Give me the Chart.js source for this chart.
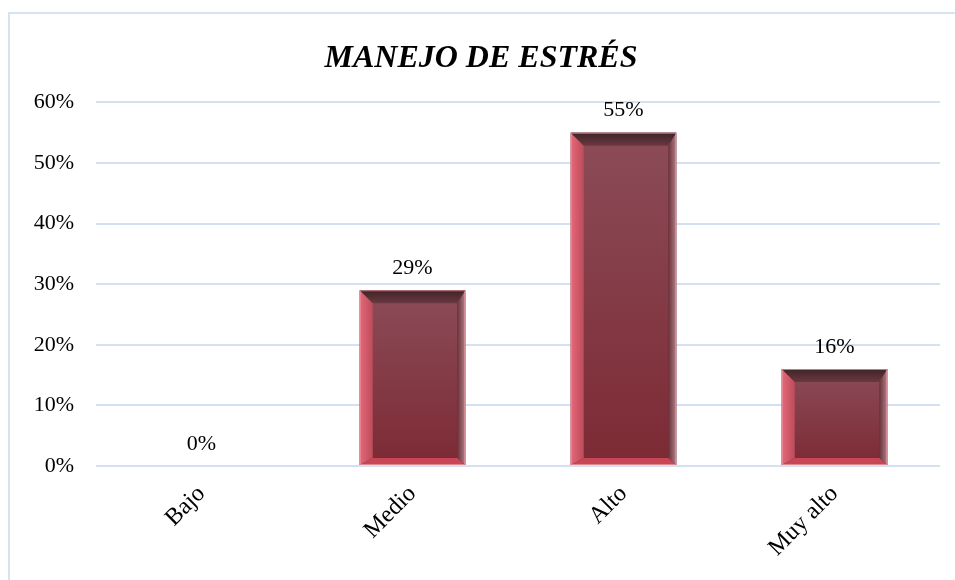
<!DOCTYPE html>
<html>
<head>
<meta charset="utf-8">
<script src="https://cdn.jsdelivr.net/npm/chart.js@4"></script>
<style>
  html, body { margin: 0; padding: 0; background: #fff; }
  #wrap { position: relative; width: 955px; height: 580px; }
  #frame { position: absolute; left: 8px; top: 12px; right: -10px; bottom: -10px;
           border-left: 2px solid #d6e3f3; border-top: 2px solid #d6e3f3; }
  canvas { position: absolute; left: 0; top: 0; }
</style>
</head>
<body>
<div id="wrap">
  <div id="frame"></div>
  <canvas id="myChart" width="955" height="580"></canvas>
</div>
<script>
// datos
const categorias = ['Bajo', 'Medio', 'Alto', 'Muy alto'];
const porcentajes = [0, 29, 55, 16];
const ticksY = [0, 10, 20, 30, 40, 50, 60];
const titulo = 'MANEJO DE ESTRÉS';

// bisel tipo Excel sobre cada barra
const biselPlugin = {
    id: 'bisel',
    afterDatasetsDraw(chart) {
        const ctx = chart.ctx;
        const meta = chart.getDatasetMeta(0);
        meta.data.forEach(function(bar, i) {
            const w = bar.width;
            const x0 = bar.x - w / 2, x1 = bar.x + w / 2;
            const y0 = bar.y, y1 = bar.base;
            const h = y1 - y0;
            if (h > 2) {
                const bt = Math.min(13, h / 2), bl = 13, br = 8, bb = Math.min(7, h / 2);
                ctx.save();
                // cara
                let g = ctx.createLinearGradient(0, y0, 0, y1);
                g.addColorStop(0, '#8b4c58');
                g.addColorStop(1, '#7c2a34');
                ctx.fillStyle = g;
                ctx.fillRect(x0, y0, w, h);
                // izquierda
                g = ctx.createLinearGradient(x0, 0, x0 + bl, 0);
                g.addColorStop(0, '#e6687a');
                g.addColorStop(1, '#bc4c5a');
                ctx.fillStyle = g;
                ctx.beginPath();
                ctx.moveTo(x0, y0); ctx.lineTo(x0 + bl, y0 + bt);
                ctx.lineTo(x0 + bl, y1 - bb); ctx.lineTo(x0, y1);
                ctx.closePath(); ctx.fill();
                // derecha
                g = ctx.createLinearGradient(x1 - br, 0, x1, 0);
                g.addColorStop(0, '#6a3038');
                g.addColorStop(1, '#b08088');
                ctx.fillStyle = g;
                ctx.beginPath();
                ctx.moveTo(x1, y0); ctx.lineTo(x1 - br, y0 + bt);
                ctx.lineTo(x1 - br, y1 - bb); ctx.lineTo(x1, y1);
                ctx.closePath(); ctx.fill();
                // arriba
                g = ctx.createLinearGradient(0, y0, 0, y0 + bt);
                g.addColorStop(0, '#3e2426');
                g.addColorStop(1, '#6a3840');
                ctx.fillStyle = g;
                ctx.beginPath();
                ctx.moveTo(x0, y0); ctx.lineTo(x1, y0);
                ctx.lineTo(x1 - br, y0 + bt); ctx.lineTo(x0 + bl, y0 + bt);
                ctx.closePath(); ctx.fill();
                // abajo
                ctx.fillStyle = '#c84656';
                ctx.beginPath();
                ctx.moveTo(x0, y1); ctx.lineTo(x1, y1);
                ctx.lineTo(x1 - br, y1 - bb); ctx.lineTo(x0 + bl, y1 - bb);
                ctx.closePath(); ctx.fill();
                ctx.strokeStyle = 'rgba(230,150,160,0.8)';
                ctx.lineWidth = 1;
                ctx.strokeRect(x0 + 0.5, y0 + 0.5, w - 1, h - 1);
                ctx.restore();
            }
            // etiqueta
            ctx.save();
            ctx.font = '22px "Liberation Serif"';
            ctx.fillStyle = '#000';
            ctx.textAlign = 'center';
            ctx.textBaseline = 'middle';
            ctx.fillText(porcentajes[i] + '%', bar.x, y0 - 22);
            ctx.restore();
        });
    }
};

const ctx = document.getElementById('myChart').getContext('2d');
const myChart = new Chart(ctx, {
    type: 'bar',
    data: {
        labels: categorias,
        datasets: [{
            label: 'Manejo de estrés',
            data: porcentajes,
            backgroundColor: '#832f3a',
            borderWidth: 0,
            categoryPercentage: 1.0,
            barPercentage: 0.5
        }]
    },
    plugins: [biselPlugin],
    options: {
        responsive: false,
        animation: false,
        layout: { padding: { left: 22, right: 15, top: 40, bottom: 0 } },
        plugins: {
            legend: { display: false },
            tooltip: { enabled: false },
            title: {
                display: true,
                text: titulo,
                color: '#000',
                font: { family: '"Liberation Serif"', size: 32, weight: 'bold', style: 'italic' },
                padding: { top: 0, bottom: 24 }
            }
        },
        scales: {
            y: {
                min: 0,
                max: 60,
                afterBuildTicks(axis) { axis.ticks = ticksY.map(v => ({ value: v })); },
                afterFit(axis) { axis.width = 74; },
                grid: { color: '#d3e1f3', lineWidth: 2, drawTicks: false },
                border: { display: false },
                ticks: {
                    padding: 22,
                    color: '#000',
                    font: { family: '"Liberation Serif"', size: 22 },
                    callback: v => v + '%'
                }
            },
            x: {
                afterFit(axis) { axis.height = 114; },
                grid: { display: false },
                border: { display: false },
                ticks: {
                    minRotation: 45,
                    maxRotation: 45,
                    padding: 6,
                    color: '#000',
                    font: { family: '"Liberation Serif"', size: 24 }
                }
            }
        }
    }
});
</script>
</body>
</html>
